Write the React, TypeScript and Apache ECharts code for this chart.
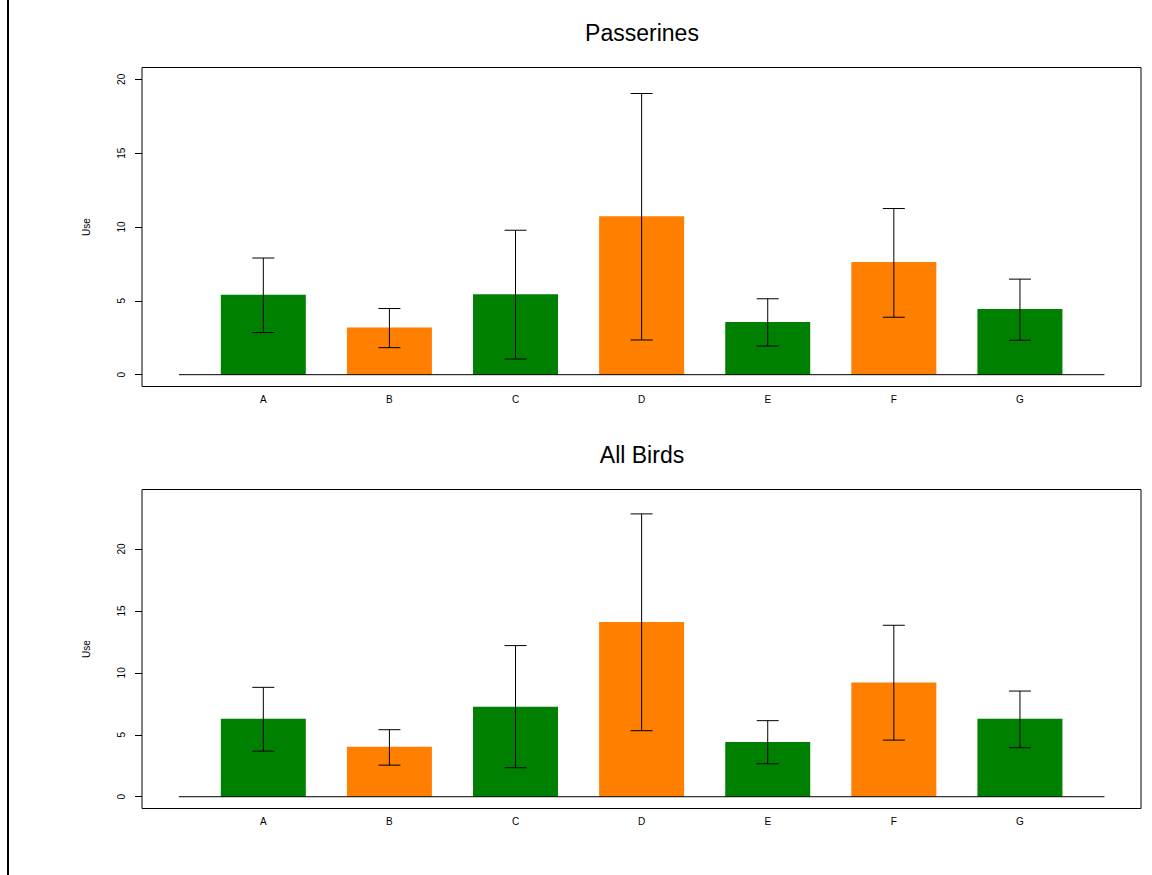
import React, { useEffect, useRef } from "react";
import * as echarts from "echarts";

const categories = ["A", "B", "C", "D", "E", "F", "G"];
const barColors = ["#008000", "#FF7F00", "#008000", "#FF7F00", "#008000", "#FF7F00", "#008000"];

const passerinesMean = [5.41, 3.19, 5.45, 10.73, 3.57, 7.63, 4.44];
const passerinesLower = [2.85, 1.83, 1.06, 2.35, 1.94, 3.89, 2.33];
const passerinesUpper = [7.9, 4.48, 9.78, 19.04, 5.14, 11.25, 6.47];

const allBirdsMean = [6.3, 4.04, 7.27, 14.1, 4.41, 9.23, 6.3];
const allBirdsLower = [3.68, 2.55, 2.34, 5.33, 2.66, 4.57, 3.96];
const allBirdsUpper = [8.83, 5.41, 12.2, 22.83, 6.14, 13.84, 8.53];

const yTicks = [0, 5, 10, 15, 20];
const xPositions = [0, 1, 2, 3, 4, 5, 6];
const baselineExtent = [-0.67, 6.67];

const panels = [
  { title: "Passerines", mean: passerinesMean, lower: passerinesLower, upper: passerinesUpper, yMin: -0.8, yMax: 20.8 },
  { title: "All Birds", mean: allBirdsMean, lower: allBirdsLower, upper: allBirdsUpper, yMin: -0.95, yMax: 24.8 },
];

const FONT = "'Liberation Sans', Arial, Helvetica, sans-serif";

export default function App() {
  const ref = useRef<HTMLDivElement>(null);

  useEffect(() => {
    if (!ref.current) return;
    const chart = echarts.init(ref.current, undefined, { renderer: "svg" });

    const gridTops = [67.5, 489.5];
    const titleTops = [16, 438];

    const option: any = {
      animation: false,
      backgroundColor: "#ffffff",
      textStyle: { fontFamily: FONT },
      title: panels.map((p, i) => ({
        text: p.title,
        left: 637,
        top: titleTops[i],
        textAlign: "center",
        textStyle: { fontSize: 23, fontWeight: "normal", color: "#000", fontFamily: FONT },
      })),
      grid: panels.map((_, i) => ({
        left: 142,
        top: gridTops[i],
        width: 999,
        height: 319,
        show: true,
        borderColor: "#000",
        borderWidth: 1,
        backgroundColor: "transparent",
      })),
      xAxis: panels.map((_, i) => ({
        gridIndex: i,
        type: "value",
        min: -0.962,
        max: 6.96,
        splitLine: { show: false },
        axisLine: { show: false, onZero: false },
        axisTick: { show: false },
        axisLabel: {
          customValues: xPositions,
          formatter: (v: number) => categories[Math.round(v)] ?? "",
          fontSize: 10,
          margin: 8,
          color: "#000",
          fontFamily: FONT,
        },
      })),
      yAxis: panels.map((p, i) => ({
        gridIndex: i,
        type: "value",
        min: p.yMin,
        max: p.yMax,
        splitLine: { show: false },
        axisLine: { show: false, onZero: false },
        axisTick: { show: true, length: 7, customValues: yTicks, lineStyle: { color: "#000", width: 1 } },
        axisLabel: {
          customValues: yTicks,
          rotate: 90,
          fontSize: 10,
          margin: 16,
          color: "#000",
          fontFamily: FONT,
        },
        name: "Use",
        nameLocation: "middle",
        nameRotate: 90,
        nameGap: 51,
        nameTextStyle: { fontSize: 10, color: "#000", fontFamily: FONT },
      })),
      graphic: [
        { type: "rect", shape: { x: 7, y: 0, width: 2, height: 875 }, style: { fill: "#000" } },
      ],
      series: [] as any[],
    };

    panels.forEach((p, i) => {
      option.series.push({
        type: "bar",
        xAxisIndex: i,
        yAxisIndex: i,
        barWidth: 85,
        data: xPositions.map((x, k) => ({ value: [x, p.mean[k]], itemStyle: { color: barColors[k] } })),
        z: 2,
      });
      option.series.push({
        type: "line",
        xAxisIndex: i,
        yAxisIndex: i,
        data: [
          [baselineExtent[0], 0],
          [baselineExtent[1], 0],
        ],
        symbol: "none",
        lineStyle: { color: "#000", width: 1 },
        z: 3,
      });
      option.series.push({
        type: "custom",
        xAxisIndex: i,
        yAxisIndex: i,
        data: xPositions.map((x, k) => [x, p.lower[k], p.upper[k]]),
        encode: { x: 0, y: [1, 2] },
        z: 4,
        renderItem: (params: any, api: any) => {
          const x = api.value(0);
          const lo = api.coord([x, api.value(1)]);
          const hi = api.coord([x, api.value(2)]);
          const hw = 11;
          const style = { stroke: "#000", lineWidth: 1 };
          return {
            type: "group",
            children: [
              { type: "line", shape: { x1: lo[0], y1: lo[1], x2: hi[0], y2: hi[1] }, style },
              { type: "line", shape: { x1: hi[0] - hw, y1: hi[1], x2: hi[0] + hw, y2: hi[1] }, style },
              { type: "line", shape: { x1: lo[0] - hw, y1: lo[1], x2: lo[0] + hw, y2: lo[1] }, style },
            ],
          };
        },
      });
    });

    chart.setOption(option);
    return () => chart.dispose();
  }, []);

  return (
    <div
      ref={ref}
      style={{ position: "absolute", left: 0, top: 0, width: 1152, height: 875, background: "#fff" }}
    />
  );
}
